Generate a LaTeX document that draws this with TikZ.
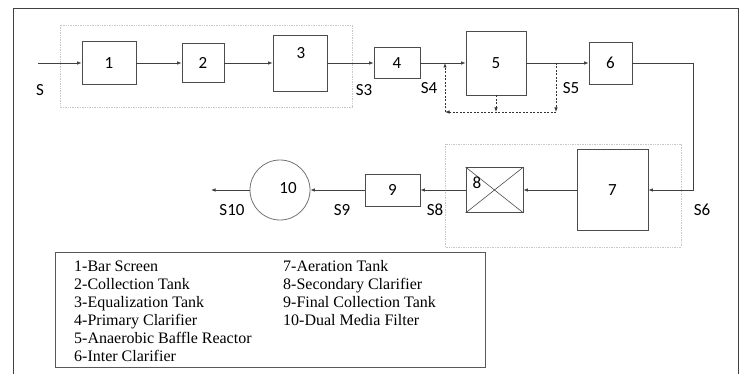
\documentclass[tikz,border=0pt]{standalone}
\usepackage{fontspec}
\setmainfont{Liberation Serif}
\newfontfamily\flowfont{Carlito}
\usetikzlibrary{arrows.meta}
\def\rowA{63}
\def\rowB{190}

\tikzset{
  unit/.style={draw=black!70,line width=0.8pt,minimum width=#1,inner sep=0pt,font=\flowfont\fontsize{17}{20}\selectfont},
  group/.style={draw=black!22,densely dotted,line width=0.7pt},
  flow/.style={draw=black!75,line width=0.7pt,-{Latex[length=4.5pt,width=3.5pt]}},
  recycle/.style={draw=black!80,line width=0.8pt,dash pattern=on 2pt off 1.5pt,-{Latex[length=4.5pt,width=3.5pt]}},
  stream/.style={font=\flowfont\fontsize{17}{20}\selectfont,inner sep=0pt},
  legtext/.style={anchor=base west,inner sep=0pt,font=\fontsize{16}{18}\selectfont}
}

\begin{document}
\begin{tikzpicture}[x=1pt,y=-1pt]
  \useasboundingbox (0,0) rectangle (744,374);

  % outer frame, open at the bottom
  \draw[black!75,line width=0.8pt] (13,380) -- (13,8) -- (738,8) -- (738,380);

  % dotted groups
  \draw[group] (60,25) rectangle (352,107);
  \draw[group] (445,144) rectangle (681,247);

  % Top row
  \node[unit=54pt,minimum height=43pt] (b1) at (109,\rowA) {1};
  \node[unit=42pt,minimum height=39pt] (b2) at (203,\rowA) {2};
  \node[unit=54pt,minimum height=56pt] (b3) at (300,\rowA) {};
  \node[stream] (n3) at (301,53) {3};
  \node[unit=46pt,minimum height=31pt] (b4) at (397,\rowA) {4};
  \node[unit=60pt,minimum height=64pt] (b5) at (496,\rowA) {5};
  \node[unit=43pt,minimum height=42pt] (b6) at (610.5,\rowA) {6};

  % Bottom row
  \node[unit=71pt,minimum height=81pt] (b7) at (612.5,\rowB) {7};
  \node[unit=57pt,minimum height=45pt] (b8) at (494.5,\rowB) {};
  \draw[black!70,line width=0.6pt] (b8.north west) -- (b8.south east) (b8.south west) -- (b8.north east);
  \node[stream] (n8) at (477,183) {8};
  \node[unit=55pt,minimum height=32pt] (b9) at (392.5,\rowB) {9};
  \node[draw=black!55,line width=0.8pt,circle,minimum size=60pt,inner sep=0pt] (c10) at (280,\rowB) {};
  \node[stream] (n10) at (288,188) {10};

  % free ends
  \coordinate (in) at (38,\rowA);
  \coordinate (turn) at (693,\rowB);
  \coordinate (out) at (211,\rowB);

  % main flow
  \draw[flow] (in) -- (b1);
  \draw[flow] (b1) -- (b2);
  \draw[flow] (b2) -- (b3);
  \draw[flow] (b3) -- (b4);
  \draw[flow] (b4) -- (b5);
  \draw[flow] (b5) -- (b6);
  \draw[flow] (b6.east) -| (turn) -- (b7.east);
  \draw[flow] (b7) -- (b8);
  \draw[flow] (b8) -- (b9);
  \draw[flow] (b9) -- (c10);
  \draw[flow] (c10) -- (out);

  % recycle around 5
  \coordinate (rl) at (445,112);
  \coordinate (rm) at (b5.south |- rl);
  \coordinate (rr) at (556,112);
  \draw[recycle] (b5.south) -- (rm);
  \draw[recycle] (rr |- b5) -- (rr);
  \draw[recycle] (rr) -- (rl);
  \draw[recycle] (rl) -- (rl |- b4);

  % stream labels
  \node[stream] (s0) at (40,90) {S};
  \node[stream] (s3) at (364,90) {S3};
  \node[stream] (s4) at (429,88) {S4};
  \node[stream] (s5) at (571,88) {S5};
  \node[stream] (s6) at (702,210) {S6};
  \node[stream] (s8) at (435,210) {S8};
  \node[stream] (s9) at (342,210) {S9};
  \node[stream] (s10) at (232,210) {S10};

  % legend
  \draw[black!65,line width=0.8pt] (55,252) rectangle (485,367);
  \node[legtext] (l1) at (74,271) {1-Bar Screen};
  \node[legtext] (l2) at (74,289) {2-Collection Tank};
  \node[legtext] (l3) at (74,307) {3-Equalization Tank};
  \node[legtext] (l4) at (74,325) {4-Primary Clarifier};
  \node[legtext] (l5) at (74,343) {5-Anaerobic Baffle Reactor};
  \node[legtext] (l6) at (74,361) {6-Inter Clarifier};
  \node[legtext] (l7) at (283,271) {7-Aeration Tank};
  \node[legtext] (l8) at (283,289) {8-Secondary Clarifier};
  \node[legtext] (l9) at (283,307) {9-Final Collection Tank};
  \node[legtext] (l10) at (283,325) {10-Dual Media Filter};

\end{tikzpicture}
\end{document}
